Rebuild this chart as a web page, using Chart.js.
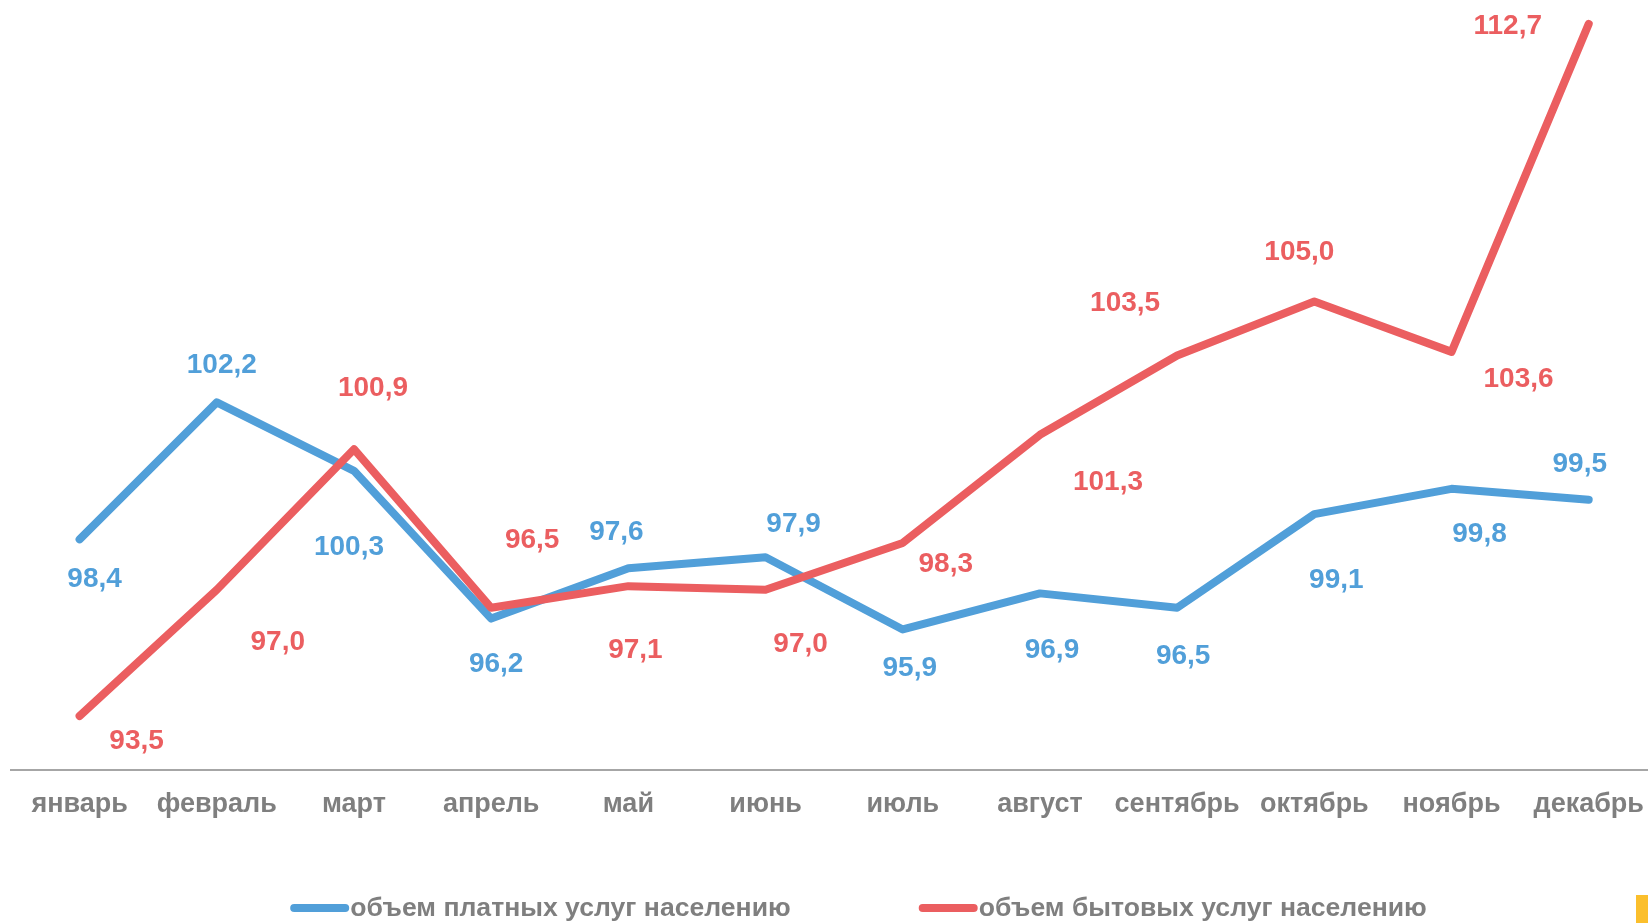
<!DOCTYPE html>
<html>
<head>
<meta charset="utf-8">
<script src="https://cdn.jsdelivr.net/npm/chart.js@4.4.0/dist/chart.umd.min.js"></script>
<style>
html, body { margin: 0; padding: 0; background: #fff; overflow: hidden; }
body { width: 1648px; height: 923px; position: relative; }
#wrap { position: absolute; left: 0; top: -40px; width: 1662px; height: 963px; }
#mark { position: absolute; left: 1636px; top: 895px; width: 12px; height: 28px; background: #fbbf2c; }
</style>
</head>
<body>
<div id="wrap"><canvas id="myChart"></canvas></div>
<div id="mark"></div>
<script>
var months = ['январь', 'февраль', 'март', 'апрель', 'май', 'июнь', 'июль', 'август', 'сентябрь', 'октябрь', 'ноябрь', 'декабрь'];
var paidServices = [98.4, 102.2, 100.3, 96.2, 97.6, 97.9, 95.9, 96.9, 96.5, 99.1, 99.8, 99.5];
var householdServices = [93.5, 97.0, 100.9, 96.5, 97.1, 97.0, 98.3, 101.3, 103.5, 105.0, 103.6, 112.7];
var seriesNames = ['объем платных услуг населению', 'объем бытовых услуг населению'];

// where each value label sits relative to its point, px
var paidLabelShift = [[15, 40], [5, -37], [-5, 76], [5, 46], [-12, -36], [28, -33], [7, 39], [12, 57], [6, 48], [22, 66], [28, 45], [-9, -35]];
var householdLabelShift = [[57, 25], [61, 53], [19, -61], [41, -68], [7, 64], [35, 55], [43, 21], [68, 48], [-52, -52], [-15, -49], [67, 27], [-81, 2]];

var blue = '#519fd9';
var red = '#eb5e60';
var grey = '#7f7f7f';
var fontFamily = '"Liberation Sans", Arial, sans-serif';

var valueLabels = {
    id: 'valueLabels',
    afterDatasetsDraw: function(chart) {
        var ctx = chart.ctx;
        ctx.save();
        ctx.font = 'bold 28px ' + fontFamily;
        ctx.textAlign = 'center';
        ctx.textBaseline = 'middle';
        chart.data.datasets.forEach(function(ds, i) {
            var meta = chart.getDatasetMeta(i);
            ctx.fillStyle = ds.borderColor;
            meta.data.forEach(function(pt, j) {
                var s = ds.labelShift[j];
                ctx.fillText(ds.data[j].toFixed(1).replace('.', ','), pt.x + s[0], pt.y + s[1]);
            });
        });
        ctx.restore();
    }
};

// legend: line sample glued to the text, like the source slide
var bottomLegend = {
    id: 'bottomLegend',
    afterDraw: function(chart) {
        var ctx = chart.ctx;
        var sample = 59, gap = 129, y = 949, centerX = 858;
        ctx.save();
        ctx.font = 'bold 26.6px ' + fontFamily;
        ctx.textBaseline = 'middle';
        ctx.textAlign = 'left';
        var sets = chart.data.datasets;
        var widths = sets.map(function(ds) { return ctx.measureText(ds.label).width; });
        var total = sample * sets.length + gap * (sets.length - 1) + widths.reduce(function(a, b) { return a + b; }, 0);
        var x = centerX - total / 2;
        sets.forEach(function(ds, i) {
            ctx.strokeStyle = ds.borderColor;
            ctx.lineWidth = 8;
            ctx.lineCap = 'round';
            ctx.beginPath();
            ctx.moveTo(x + 4, y - 1);
            ctx.lineTo(x + sample - 4, y - 1);
            ctx.stroke();
            ctx.fillStyle = grey;
            ctx.fillText(ds.label, x + sample + 1, y);
            x += sample + widths[i] + gap;
        });
        ctx.restore();
    }
};

var ctx = document.getElementById('myChart');

var myChart = new Chart(ctx, {
    type: 'line',
    data: {
        labels: months,
        datasets: [
            {
                label: seriesNames[0],
                data: paidServices,
                labelShift: paidLabelShift,
                borderColor: blue,
                backgroundColor: blue,
                borderWidth: 8,
                borderCapStyle: 'round',
                borderJoinStyle: 'round',
                pointRadius: 0,
                tension: 0,
                order: 1
            },
            {
                label: seriesNames[1],
                data: householdServices,
                labelShift: householdLabelShift,
                borderColor: red,
                backgroundColor: red,
                borderWidth: 8,
                borderCapStyle: 'round',
                borderJoinStyle: 'round',
                pointRadius: 0,
                tension: 0,
                order: 0
            }
        ]
    },
    options: {
        responsive: true,
        maintainAspectRatio: false,
        animation: false,
        layout: { padding: { left: 11, right: 1, top: 17, bottom: 0 } },
        plugins: {
            legend: { display: false },
            tooltip: { enabled: false }
        },
        scales: {
            x: {
                offset: true,
                grid: { display: false, drawTicks: false },
                border: { display: true, color: '#a6a6a6', width: 2 },
                ticks: {
                    color: grey,
                    padding: 18,
                    maxRotation: 0,
                    autoSkip: false,
                    font: { family: fontFamily, size: 27, weight: 'bold' }
                },
                afterFit: function(scale) { scale.height = 153; }
            },
            y: {
                display: false,
                min: 92,
                max: 114
            }
        }
    },
    plugins: [valueLabels, bottomLegend]
});
</script>
</body>
</html>
